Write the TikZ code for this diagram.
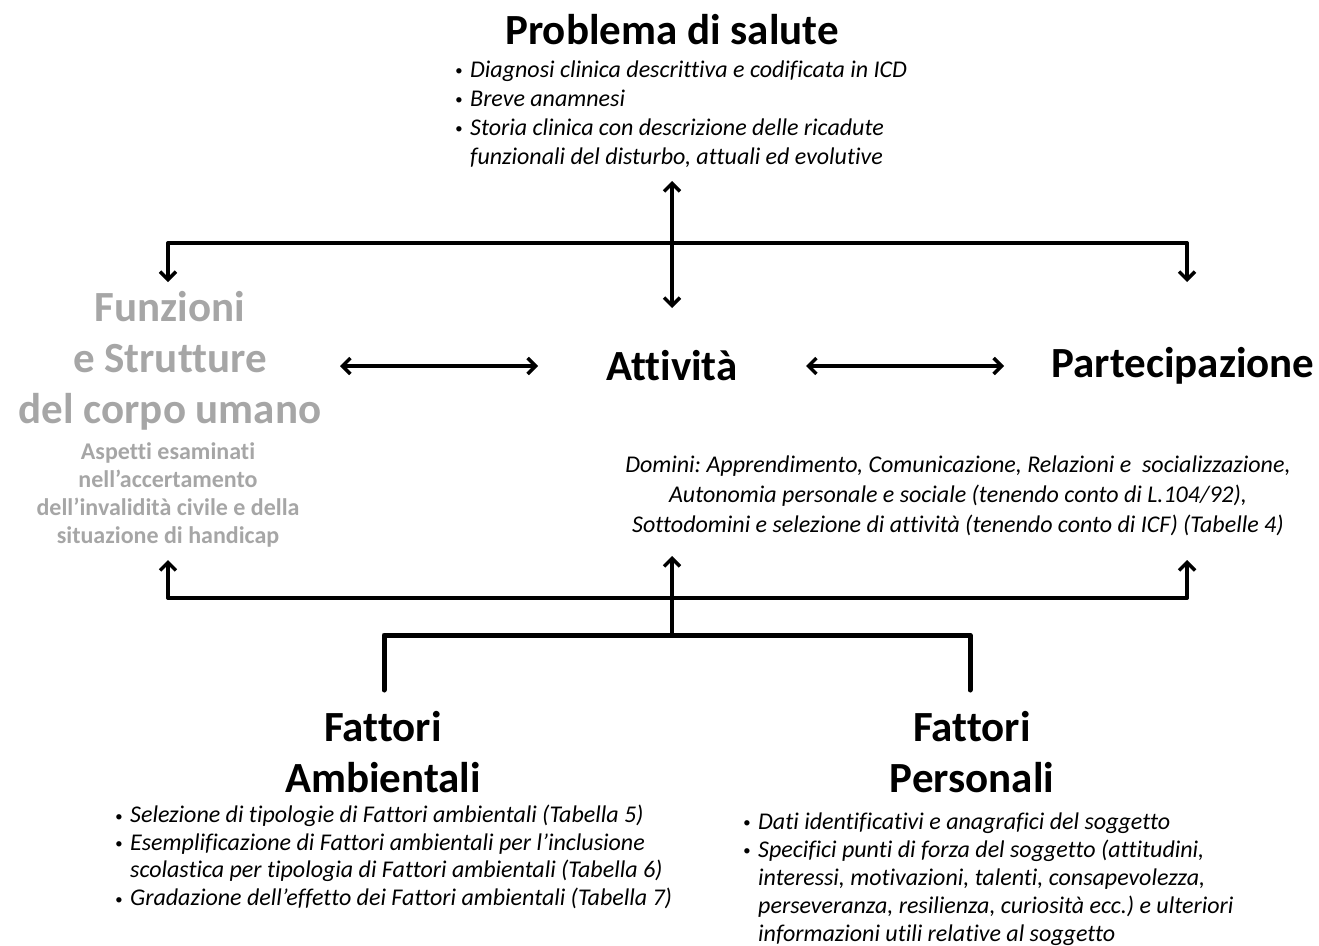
\documentclass[tikz,border=0pt]{standalone}
\usepackage{fontspec}
\setmainfont{Carlito}[Ligatures=NoCommon]
\usetikzlibrary{arrows.meta}
\definecolor{mygray}{RGB}{166,166,166}
\newcommand{\bul}{\makebox[15pt][l]{\raisebox{1.5pt}{\fontsize{15}{15}\selectfont\textbullet}}}
\newcommand{\ind}{\hspace*{15pt}}
\frenchspacing

\begin{document}
\begin{tikzpicture}[x=1pt, y=-1pt,
	big/.style={font=\fontsize{43}{51}\selectfont\bfseries, align=center, inner sep=0pt},
	note/.style={font=\fontsize{24}{29}\selectfont\itshape, align=left, inner sep=0pt},
	link/.style={line width=3.5pt, line cap=round, line join=round},
	>={Straight Barb[length=8pt, width=16pt]}]

	\useasboundingbox (0,0) rectangle (1319,945);

	% top
	\node [big] (prob) at (672,30) {Problema di salute};
	\node [note, anchor=west] (diag) at (455,114) {\bul Diagnosi clinica descrittiva e codificata in ICD\\
		\bul Breve anamnesi\\
		\bul Storia clinica con descrizione delle ricadute\\
		\ind funzionali del disturbo, attuali ed evolutive};

	% middle row
	\node [big, text=mygray] (funz) at (170,361) {Funzioni\\ e Strutture\\ del corpo umano};
	\node [font=\fontsize{24}{28.3}\selectfont\bfseries, text=mygray, align=center, inner sep=0pt] (asp) at (168,495)
		{Aspetti esaminati\\ nell'accertamento\\ dell'invalidità civile e della\\ situazione di handicap};
	\node [big] (att) at (672,366) {Attività};
	\node [big] (part) at (1183,366) {Partecipazione};
	\node [note, align=center, font=\fontsize{24}{30}\selectfont\itshape] (dom) at (958,496) {Domini: Apprendimento, Comunicazione, Relazioni e\ \ socializzazione,\\
		Autonomia personale e sociale (tenendo conto di L.104/92),\\
		Sottodomini e selezione di attività (tenendo conto di ICF) (Tabelle 4)};

	% bottom
	\node [big] (amb) at (383,752) {Fattori\\ Ambientali};
	\node [big] (pers) at (972,752) {Fattori\\ Personali};
	\node [note, anchor=west, font=\fontsize{24}{27.7}\selectfont\itshape] (ambl) at (115,857) {\bul Selezione di tipologie di Fattori ambientali (Tabella 5)\\
		\bul Esemplificazione di Fattori ambientali per l'inclusione\\
		\ind scolastica per tipologia di Fattori ambientali (Tabella 6)\\
		\bul Gradazione dell'effetto dei Fattori ambientali (Tabella 7)};
	\node [note, anchor=west, font=\fontsize{24}{28}\selectfont\itshape] (persl) at (743,879) {\bul Dati identificativi e anagrafici del soggetto\\
		\bul Specifici punti di forza del soggetto (attitudini,\\
		\ind interessi, motivazioni, talenti, consapevolezza,\\
		\ind perseveranza, resilienza, curiosità ecc.) e ulteriori\\
		\ind informazioni utili relative al soggetto};

	% junctions
	\coordinate (tl) at (168,243);
	\coordinate (tr) at (1187,243);
	\coordinate (bl) at (168,598);
	\coordinate (br) at (1187,598);
	\coordinate (bm) at (672,635);
	\coordinate (fl) at (384,690);
	\coordinate (fr) at (970,690);

	% arrows
	\draw [link, <->] (672,181) -- (672,308);
	\draw [link, ->] (tl) -- (168,282);
	\draw [link, ->] (tr) -- (1187,282);
	\draw [link] (tl) -- (tr);
	\draw [link, <->] (340,366) -- (538,366);
	\draw [link, <->] (806,366) -- (1004,366);

	\draw [link, ->] (bl) -- (168,560);
	\draw [link, ->] (br) -- (1187,560);
	\draw [link] (bl) -- (br);
	\draw [link, ->] (bm) -- (672,556);
	\draw [link, line width=5pt] (fl) |- (bm) -| (fr);

\end{tikzpicture}
\end{document}
